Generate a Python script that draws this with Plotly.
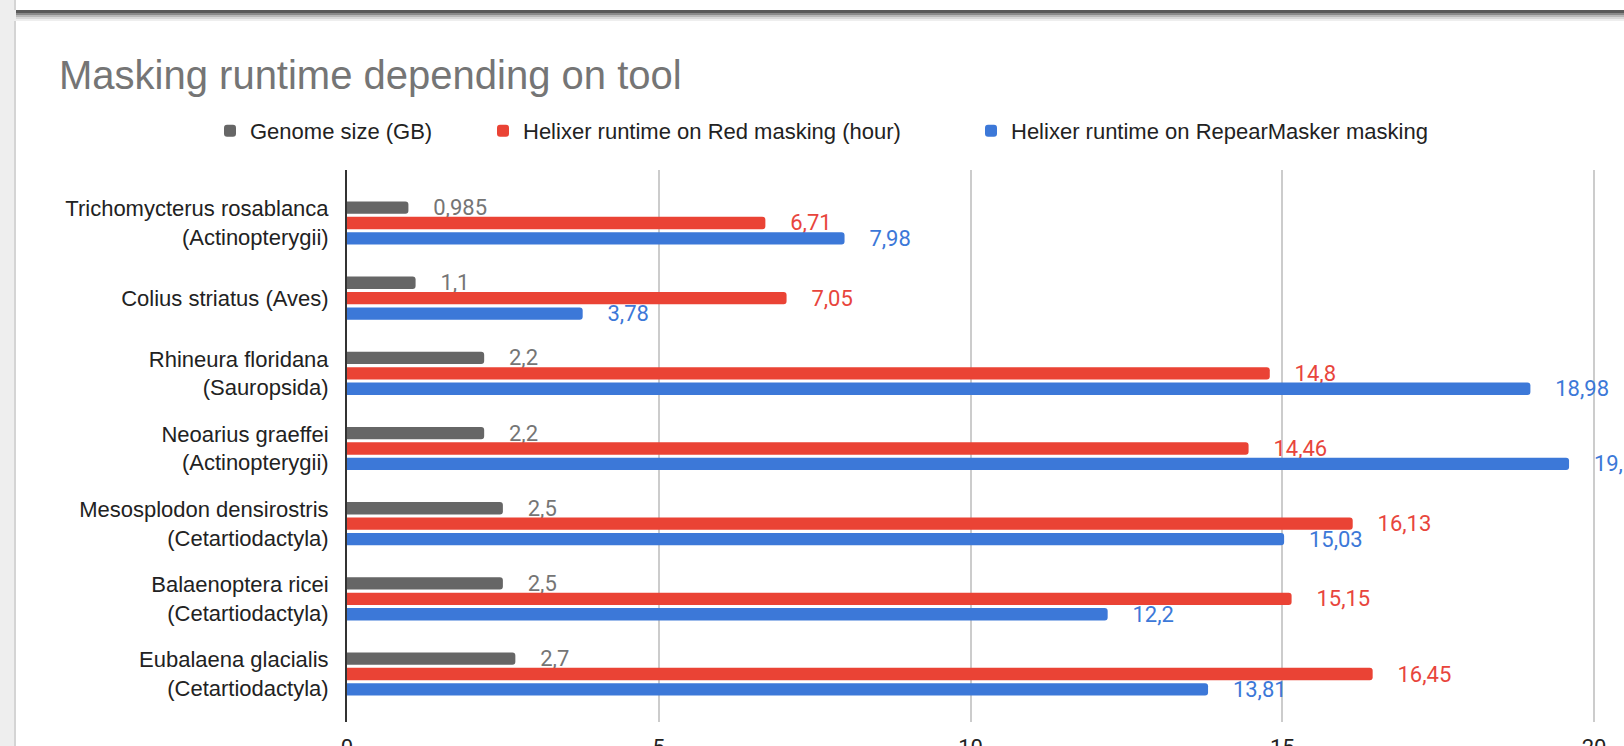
import plotly.graph_objects as go

# ---------------- data ----------------
categories = [
    "Trichomycterus rosablanca<br>(Actinopterygii)",
    "Colius striatus (Aves)",
    "Rhineura floridana<br>(Sauropsida)",
    "Neoarius graeffei<br>(Actinopterygii)",
    "Mesosplodon densirostris<br>(Cetartiodactyla)",
    "Balaenoptera ricei<br>(Cetartiodactyla)",
    "Eubalaena glacialis<br>(Cetartiodactyla)",
]
genome_size = [0.985, 1.1, 2.2, 2.2, 2.5, 2.5, 2.7]
red_runtime = [6.71, 7.05, 14.8, 14.46, 16.13, 15.15, 16.45]
rm_runtime = [7.98, 3.78, 18.98, 19.6, 15.03, 12.2, 13.81]

series_names = [
    "Genome size (GB)",
    "Helixer runtime on Red masking (hour)",
    "Helixer runtime on RepearMasker masking",
]
tick_vals = [0, 5, 10, 15, 20]
title_text = "Masking runtime depending on tool"

# ---------------- styling ----------------
W, H = 1624, 746
L, R, T, B = 347, 0, 170, 24
PW, PH = W - L - R, H - T - B
PX_PER_UNIT = 62.35

bar_colors = ["#666666", "#ea4335", "#3c78d8"]
text_colors = ["#757575", "#e8453c", "#3c78d8"]
LABEL_FONT = "Roboto, Arial, sans-serif"
SANS = "Liberation Sans, Arial, sans-serif"
PAGE_GRAY = "#eeeeee"


def fmt(v):
    return "\u00a0\u00a0\u00a0\u00a0" + f"{v:g}".replace(".", ",")


def px_x(px):
    return (px - L) / PW


def px_y(py):
    return (H - B - py) / PH


fig = go.Figure()
all_series = [genome_size, red_runtime, rm_runtime]
legend_ids = ["legend", "legend2", "legend3"]
for i, vals in enumerate(all_series):
    fig.add_trace(go.Bar(
        x=vals,
        y=categories,
        orientation="h",
        name=series_names[i],
        marker=dict(color=bar_colors[i], line=dict(width=0)),
        text=[fmt(v) for v in vals],
        textposition="outside",
        constraintext="none",
        cliponaxis=False,
        textfont=dict(family=LABEL_FONT, size=22, color=text_colors[i]),
        legend=legend_ids[i],
        hoverinfo="x+name",
    ))

# category axis placement (category index 0 at top)
n = len(categories)
step = 75.17
top_val = -(223 - T) / step
bot_val = (n - 1) + (H - B - 674) / step

# page / card decoration (white paper, gray page margins)
shapes = []


def rect(x0, y0, x1, y1, color):
    shapes.append(dict(type="rect", xref="paper", yref="paper",
                       x0=px_x(x0), x1=px_x(x1), y0=px_y(y1), y1=px_y(y0),
                       fillcolor=color, line=dict(width=0), layer="below"))


rect(-2, -2, 14, H + 2, PAGE_GRAY)
rect(14, -2, 16, H + 2, "#d4d4d4")
rect(14, 10, W + 2, 21, PAGE_GRAY)
rect(16, 10, W + 2, 13, "#5a5a5a")
rect(16, 13, W + 2, 15, "#8a8a8a")
rect(16, 15, W + 2, 17, "#b8b8b8")
rect(16, 17, W + 2, 19, "#d8d8d8")

legend_text_start = [252, 525, 1013]
legends = {}
for i, lid in enumerate(legend_ids):
    legends[lid] = dict(
        x=(legend_text_start[i] - 42) / W, xref="container", xanchor="left",
        y=1 - 131 / H, yref="container", yanchor="middle",
        orientation="h", bgcolor="rgba(0,0,0,0)", borderwidth=0,
        font=dict(family=SANS, size=22, color="#222222"),
        itemwidth=30,
    )

fig.update_layout(
    width=W, height=H,
    margin=dict(l=L, r=R, t=T, b=B, pad=0, autoexpand=False),
    paper_bgcolor="#ffffff",
    plot_bgcolor="rgba(0,0,0,0)",
    barmode="group",
    bargap=0.385,
    bargroupgap=0.2,
    barcornerradius=3,
    title=dict(text=title_text, x=59 / W, xanchor="left", xref="container",
               y=1 - 75 / H, yanchor="middle", yref="container",
               font=dict(family=SANS, size=40, color="#757575")),
    xaxis=dict(range=[0, PW / PX_PER_UNIT], tickvals=tick_vals,
               showgrid=True, gridcolor="#cccccc", gridwidth=2,
               zeroline=False, showline=False, ticks="",
               ticklabelstandoff=10, automargin=False,
               tickfont=dict(family=LABEL_FONT, size=22, color="#222222"),
               fixedrange=True),
    yaxis=dict(range=[bot_val, top_val], categoryorder="array",
               categoryarray=categories, showgrid=False, zeroline=False,
               showline=True, linecolor="#333333", linewidth=2, ticks="",
               ticklabelstandoff=12, automargin=False,
               tickfont=dict(family=SANS, size=22, color="#222222"),
               fixedrange=True),
    shapes=shapes,
    showlegend=True,
    **legends,
)

page_js = (
    "document.documentElement.style.margin='0';"
    "document.documentElement.style.overflow='hidden';"
    "document.body.style.margin='0';"
    "document.body.style.padding='0';"
    "document.body.style.overflow='hidden';"
)

fig.write_html("out.html", post_script=page_js,
               config={"displayModeBar": False})
